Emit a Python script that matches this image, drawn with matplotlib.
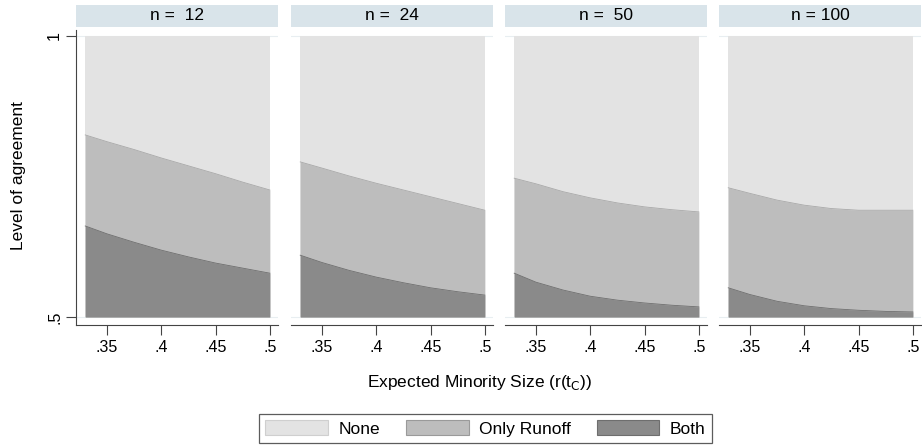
import numpy as np
import matplotlib.pyplot as plt
from matplotlib.patches import Patch

plt.rcParams['font.family'] = ['Liberation Sans', 'DejaVu Sans']

# expected minority size grid and agreement bounds per sample size
r_tc = [0.33, 0.35, 0.375, 0.40, 0.425, 0.45, 0.475, 0.50]
panels = ['n =  12', 'n =  24', 'n =  50', 'n = 100']
runoff_top = [
    [0.824, 0.812, 0.798, 0.783, 0.769, 0.755, 0.740, 0.726],
    [0.776, 0.765, 0.751, 0.738, 0.726, 0.714, 0.702, 0.690],
    [0.747, 0.737, 0.723, 0.712, 0.703, 0.696, 0.691, 0.687],
    [0.730, 0.720, 0.708, 0.699, 0.693, 0.690, 0.690, 0.690],
]
both_top = [
    [0.662, 0.648, 0.633, 0.619, 0.607, 0.596, 0.587, 0.578],
    [0.610, 0.597, 0.583, 0.571, 0.561, 0.552, 0.545, 0.539],
    [0.578, 0.562, 0.548, 0.537, 0.530, 0.525, 0.521, 0.518],
    [0.552, 0.540, 0.528, 0.520, 0.515, 0.512, 0.510, 0.509],
]
x_ticks = [0.35, 0.40, 0.45, 0.50]
x_ticklabels = ['.35', '.4', '.45', '.5']
legend_labels = ['None', 'Only Runoff', 'Both']

c_none = '#e3e3e3'
c_runoff = '#bdbdbd'
c_both = '#8a8a8a'
strip_col = '#d9e4ea'
W, H = 922, 446

fig = plt.figure(figsize=(W / 100, H / 100), dpi=100)
lefts = [76, 291, 505, 719]
pw = 202
ax_top, ax_bot = 30, 325

for k, left in enumerate(lefts):
    ax = fig.add_axes([left / W, 1 - ax_bot / H, pw / W, (ax_bot - ax_top) / H])
    x = np.array(r_tc)
    ax.fill_between(x, 0.5, 1.0, color=c_none, lw=0)
    ax.fill_between(x, 0.5, runoff_top[k], color=c_runoff, lw=0)
    ax.plot(x, runoff_top[k], color='#a8a8a8', lw=0.6)
    ax.fill_between(x, 0.5, both_top[k], color=c_both, lw=0)
    ax.plot(x, both_top[k], color='#6e6e6e', lw=0.6)
    for yv in (0.5, 1.0):
        ax.axhline(yv, color='#e8eef1', lw=0.8, zorder=0.5)
    ax.set_xlim(0.3215, 0.5075)
    ax.set_ylim(0.4858, 1.0107)
    ax.set_xticks(x_ticks)
    ax.set_xticklabels(x_ticklabels, fontsize=11.5)
    ax.tick_params(axis='x', length=7, width=0.8, color='#444444', pad=4)
    for s in ('top', 'right'):
        ax.spines[s].set_visible(False)
    ax.spines['bottom'].set_color('#444444')
    if k == 0:
        ax.set_yticks([0.5, 1.0])
        ax.set_yticklabels(['.5', '1'], rotation=90, va='center', fontsize=11.5)
        ax.tick_params(axis='y', length=7, width=0.8, color='#444444', pad=3)
        ax.spines['left'].set_color('#444444')
    else:
        ax.spines['left'].set_visible(False)
        ax.set_yticks([])

    strip = fig.add_axes([left / W, 1 - 27 / H, pw / W, 22 / H])
    strip.set_facecolor(strip_col)
    strip.set_xticks([])
    strip.set_yticks([])
    for s in strip.spines.values():
        s.set_visible(False)
    strip.text(0.5, 0.5, panels[k], ha='center', va='center', fontsize=12.5)

fig.text(18 / W, 1 - 176 / H, 'Level of agreement', rotation=90,
         ha='center', va='center', fontsize=12.5)
fig.text(480 / W, 1 - 382 / H, 'Expected Minority Size (r(t$_\\mathrm{C}$))',
         ha='center', va='center', fontsize=12.5)

handles = [Patch(facecolor=c, edgecolor='#cfcfcf' if c == c_none else '#9a9a9a' if c == c_runoff else '#6e6e6e', lw=0.8)
           for c in (c_none, c_runoff, c_both)]
leg = fig.legend(handles, legend_labels, ncol=3, loc='center',
                 bbox_to_anchor=((263 + 708) / 2 / W, 1 - 428.5 / H),
                 fontsize=12.5, handlelength=3.6, handleheight=0.95,
                 columnspacing=1.5, handletextpad=0.6, fancybox=False,
                 borderpad=0.35, borderaxespad=0)
leg.get_frame().set_edgecolor('#333333')
leg.get_frame().set_linewidth(0.9)

fig.savefig('out.png', dpi=100)
